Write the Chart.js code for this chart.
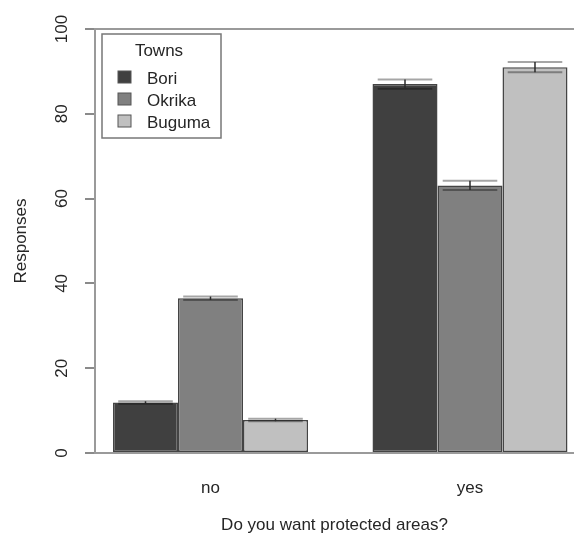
<!DOCTYPE html>
<html>
<head>
<meta charset="utf-8">
<script src="https://cdn.jsdelivr.net/npm/chart.js@4/dist/chart.umd.min.js"></script>
<style>
  html, body { margin: 0; padding: 0; background: #fff; overflow: hidden; }
  #wrap { width: 574px; height: 538px; }
</style>
</head>
<body>
<div id="wrap"><canvas id="c" width="574" height="538"></canvas></div>
<script>
const categories = ['no', 'yes'];
const towns = ['Bori', 'Okrika', 'Buguma'];
const boriValues = [11.9, 87.0];
const okrikaValues = [36.5, 63.1];
const bugumaValues = [7.8, 91.0];
const boriErrors = [0.3, 1.1];
const okrikaErrors = [0.4, 1.1];
const bugumaErrors = [0.3, 1.2];
const yTicks = [0, 20, 40, 60, 80, 100];

const colours = ['#404040', '#808080', '#c0c0c0'];
const FONT = '"Liberation Sans", Arial, sans-serif';
const TEXT = '#262626';
const FS = 17;

function toPoints(vals) { return vals.map((v, i) => ({ x: i + 1, y: v })); }

const seriesValues = [boriValues, okrikaValues, bugumaValues];
const seriesErrors = [boriErrors, okrikaErrors, bugumaErrors];

const datasets = towns.map((t, k) => ({
  label: t,
  data: toPoints(seriesValues[k]),
  errors: seriesErrors[k],
  backgroundColor: colours[k],
  borderColor: '#444',
  borderWidth: 1.5,
  borderSkipped: false,
  categoryPercentage: 0.7514,
  barPercentage: 1.0
}));

const errorBars = {
  id: 'errorBars',
  afterDatasetsDraw(chart) {
    const ctx = chart.ctx;
    const ys = chart.scales.y;
    chart.data.datasets.forEach((ds, k) => {
      const meta = chart.getDatasetMeta(k);
      meta.data.forEach((bar, i) => {
        const v = ds.data[i].y, e = ds.errors[i];
        const yTop = ys.getPixelForValue(v + e);
        const yBot = ys.getPixelForValue(v - e);
        const half = bar.width * 0.42;
        ctx.save();
        ctx.strokeStyle = 'rgba(0,0,0,0.35)';
        ctx.lineWidth = 2;
        ctx.beginPath();
        ctx.moveTo(bar.x - half, yTop); ctx.lineTo(bar.x + half, yTop);
        ctx.moveTo(bar.x - half, yBot); ctx.lineTo(bar.x + half, yBot);
        ctx.stroke();
        ctx.strokeStyle = '#2a2a2a';
        ctx.lineWidth = 1.5;
        ctx.beginPath();
        ctx.moveTo(bar.x, yTop); ctx.lineTo(bar.x, yBot);
        ctx.stroke();
        ctx.restore();
      });
    });
  }
};

const legendBox = {
  id: 'legendBox',
  afterDraw(chart) {
    const ctx = chart.ctx;
    const x0 = 102, y0 = 34, w = 119, h = 104;
    ctx.save();
    ctx.fillStyle = '#fff';
    ctx.fillRect(x0, y0, w, h);
    ctx.strokeStyle = '#777';
    ctx.lineWidth = 1.5;
    ctx.strokeRect(x0, y0, w, h);
    ctx.fillStyle = TEXT;
    ctx.font = FS + 'px ' + FONT;
    ctx.textAlign = 'center';
    ctx.textBaseline = 'middle';
    ctx.fillText('Towns', 159, 51);
    ctx.textAlign = 'left';
    chart.data.datasets.forEach((ds, k) => {
      const cy = 77 + k * 22;
      ctx.fillStyle = ds.backgroundColor;
      ctx.fillRect(118, cy - 6, 13, 12);
      ctx.strokeStyle = '#555';
      ctx.lineWidth = 1;
      ctx.strokeRect(118, cy - 6, 13, 12);
      ctx.fillStyle = TEXT;
      ctx.fillText(ds.label, 147, cy + 2);
    });
    ctx.restore();
  }
};

new Chart(document.getElementById('c'), {
  type: 'bar',
  data: { datasets },
  plugins: [errorBars, legendBox],
  options: {
    responsive: false,
    animation: false,
    layout: { padding: { top: 29, right: 0, left: 0, bottom: 0 } },
    plugins: { legend: { display: false }, tooltip: { enabled: false } },
    scales: {
      x: {
        type: 'linear',
        offset: false,
        min: 0.5549,
        max: 2.4008,
        afterBuildTicks: s => { s.ticks = categories.map((c, i) => ({ value: i + 1 })); },
        afterFit: s => { s.height = 85; },
        grid: { display: false, drawTicks: false, tickLength: 0, offset: false },
        border: { display: false },
        ticks: {
          padding: 25,
          maxRotation: 0,
          minRotation: 0,
          color: TEXT,
          font: { family: FONT, size: FS },
          callback: v => categories[Math.round(v) - 1] || ''
        },
        title: {
          display: true,
          text: 'Do you want protected areas?',
          color: TEXT,
          font: { family: FONT, size: FS },
          padding: { top: 0, bottom: 2 }
        }
      },
      y: {
        min: 0,
        max: 100,
        afterBuildTicks: s => { s.ticks = yTicks.map(v => ({ value: v })); },
        afterFit: s => { s.width = 95; },
        grid: {
          color: c => (c.tick && (c.tick.value === 0 || c.tick.value === 100)) ? '#9a9a9a' : 'rgba(0,0,0,0)',
          lineWidth: 2,
          tickColor: '#8a8a8a',
          tickLength: 10,
          tickWidth: 2,
          drawTicks: true
        },
        border: { display: true, color: '#9a9a9a', width: 2 },
        ticks: {
          minRotation: 90,
          maxRotation: 90,
          crossAlign: 'center',
          padding: 9,
          color: TEXT,
          font: { family: FONT, size: FS }
        },
        title: {
          display: true,
          text: 'Responses',
          color: TEXT,
          font: { family: FONT, size: FS },
          padding: { top: 11, bottom: 0 }
        }
      }
    }
  }
});
</script>
</body>
</html>
